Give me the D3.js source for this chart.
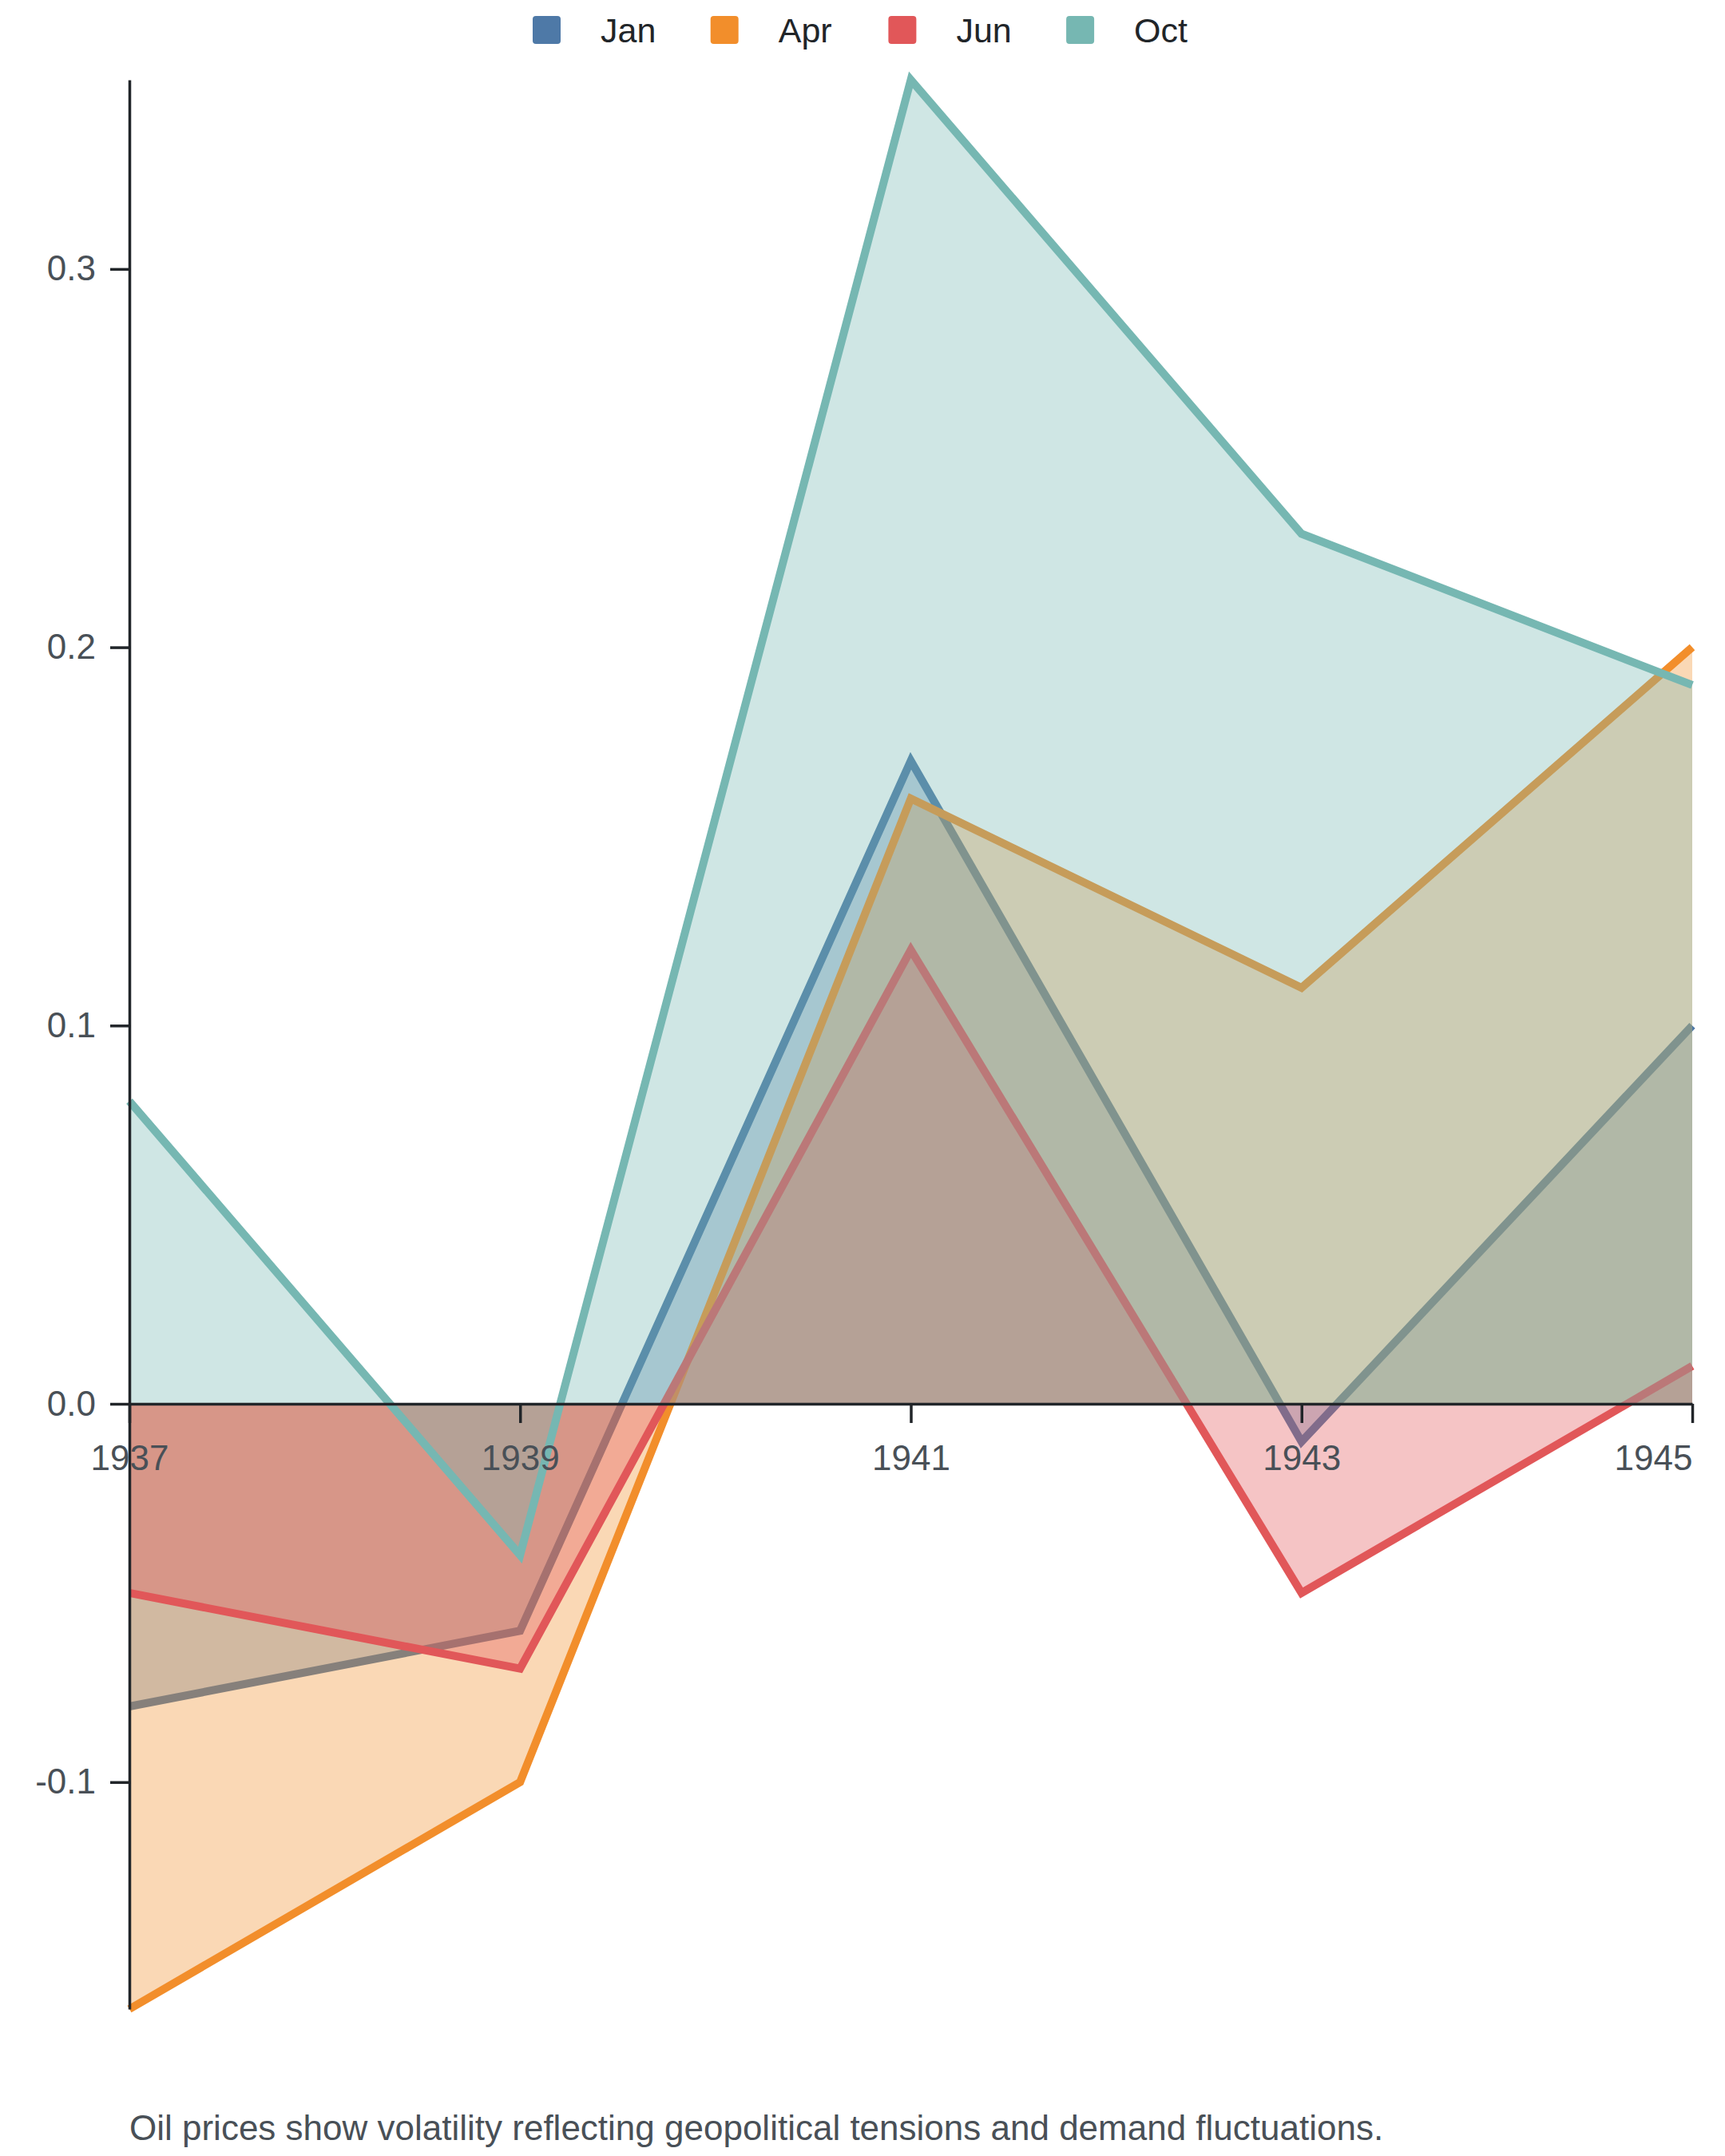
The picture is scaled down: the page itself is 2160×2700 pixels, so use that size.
<!DOCTYPE html>
<html>
<head>
<meta charset="utf-8">
<script src="https://cdn.jsdelivr.net/npm/d3@7"></script>
<style>
  html, body { margin: 0; padding: 0; background: #fff; }
  svg { display: block; font-family: "Liberation Sans", Arial, sans-serif; }
</style>
</head>
<body>
<div id="chart"></div>
<script>
// data
const years = [1937, 1939, 1941, 1943, 1945];
const seriesNames = ["Jan", "Apr", "Jun", "Oct"];
const janValues = [-0.08, -0.06, 0.17, -0.01, 0.10];
const aprValues = [-0.16, -0.10, 0.16, 0.11, 0.20];
const junValues = [-0.05, -0.07, 0.12, -0.05, 0.01];
const octValues = [0.08, -0.04, 0.35, 0.23, 0.19];
const seriesColors = ["#4e79a7", "#f28e2b", "#e15759", "#76b7b2"];
const yTickValues = [-0.1, 0.0, 0.1, 0.2, 0.3];
const caption = "Oil prices show volatility reflecting geopolitical tensions and demand fluctuations.";

const W = 2160, H = 2700;
const margin = { top: 100, right: 41, bottom: 184, left: 162 };

const series = seriesNames.map((name, i) => ({
  name: name,
  color: seriesColors[i],
  values: [janValues, aprValues, junValues, octValues][i].map((v, j) => [years[j], v])
}));

const svg = d3.select("#chart").append("svg")
  .attr("width", W)
  .attr("height", H);

const x = d3.scaleLinear()
  .domain(d3.extent(years))
  .range([margin.left, W - margin.right]);

const allVals = series.flatMap(s => s.values.map(d => d[1]));
const y = d3.scaleLinear()
  .domain([d3.min(allVals), d3.max(allVals)])
  .range([H - margin.bottom, margin.top]);

const area = d3.area()
  .x(d => x(d[0]))
  .y0(y(0))
  .y1(d => y(d[1]));

const line = d3.line()
  .x(d => x(d[0]))
  .y(d => y(d[1]));

// area then line per series, so later fills tint earlier lines
series.forEach(s => {
  svg.append("path")
    .datum(s.values)
    .attr("d", area)
    .attr("fill", s.color)
    .attr("fill-opacity", 0.35);
  svg.append("path")
    .datum(s.values)
    .attr("d", line)
    .attr("fill", "none")
    .attr("stroke", s.color)
    .attr("stroke-width", 10);
});

// plain hyphen for negatives, like the reference
const fmt = d => d3.format(".1f")(d).replace("\u2212", "-");

// y axis
const yAxis = svg.append("g")
  .attr("transform", `translate(${margin.left},0)`)
  .call(d3.axisLeft(y).tickValues(yTickValues).tickFormat(fmt).tickSize(24).tickSizeOuter(0).tickPadding(18));

// x axis sits on zero
const xAxis = svg.append("g")
  .attr("transform", `translate(0,${y(0)})`)
  .call(d3.axisBottom(x).tickValues(years).tickFormat(d3.format("d")).tickSize(24).tickSizeOuter(0).tickPadding(28));

[yAxis, xAxis].forEach(g => {
  g.select(".domain").attr("stroke", "#212529").attr("stroke-width", 3.5);
  g.selectAll(".tick line").attr("stroke", "#212529").attr("stroke-width", 3.5);
  g.selectAll(".tick text")
    .attr("fill", "#495057")
    .style("font-size", "44px");
});
// keep the last year label inside the frame
xAxis.selectAll(".tick text")
  .filter(d => d === years[years.length - 1])
  .attr("text-anchor", "end");

// legend
const legendStep = 222.7;
const legendLeft = 667;
const legend = svg.append("g").attr("transform", `translate(${legendLeft},20)`);
const items = legend.selectAll("g")
  .data(series)
  .join("g")
  .attr("transform", (d, i) => `translate(${i * legendStep},0)`);
items.append("rect")
  .attr("width", 35)
  .attr("height", 35)
  .attr("rx", 4)
  .attr("fill", d => d.color);
items.append("text")
  .attr("x", 85)
  .attr("y", 17.5)
  .attr("dy", "0.35em")
  .attr("fill", "#212529")
  .style("font-size", "43px")
  .text(d => d.name);

// caption
svg.append("text")
  .attr("x", margin.left)
  .attr("y", 2680)
  .attr("fill", "#495057")
  .style("font-size", "44px")
  .text(caption);
</script>
</body>
</html>
